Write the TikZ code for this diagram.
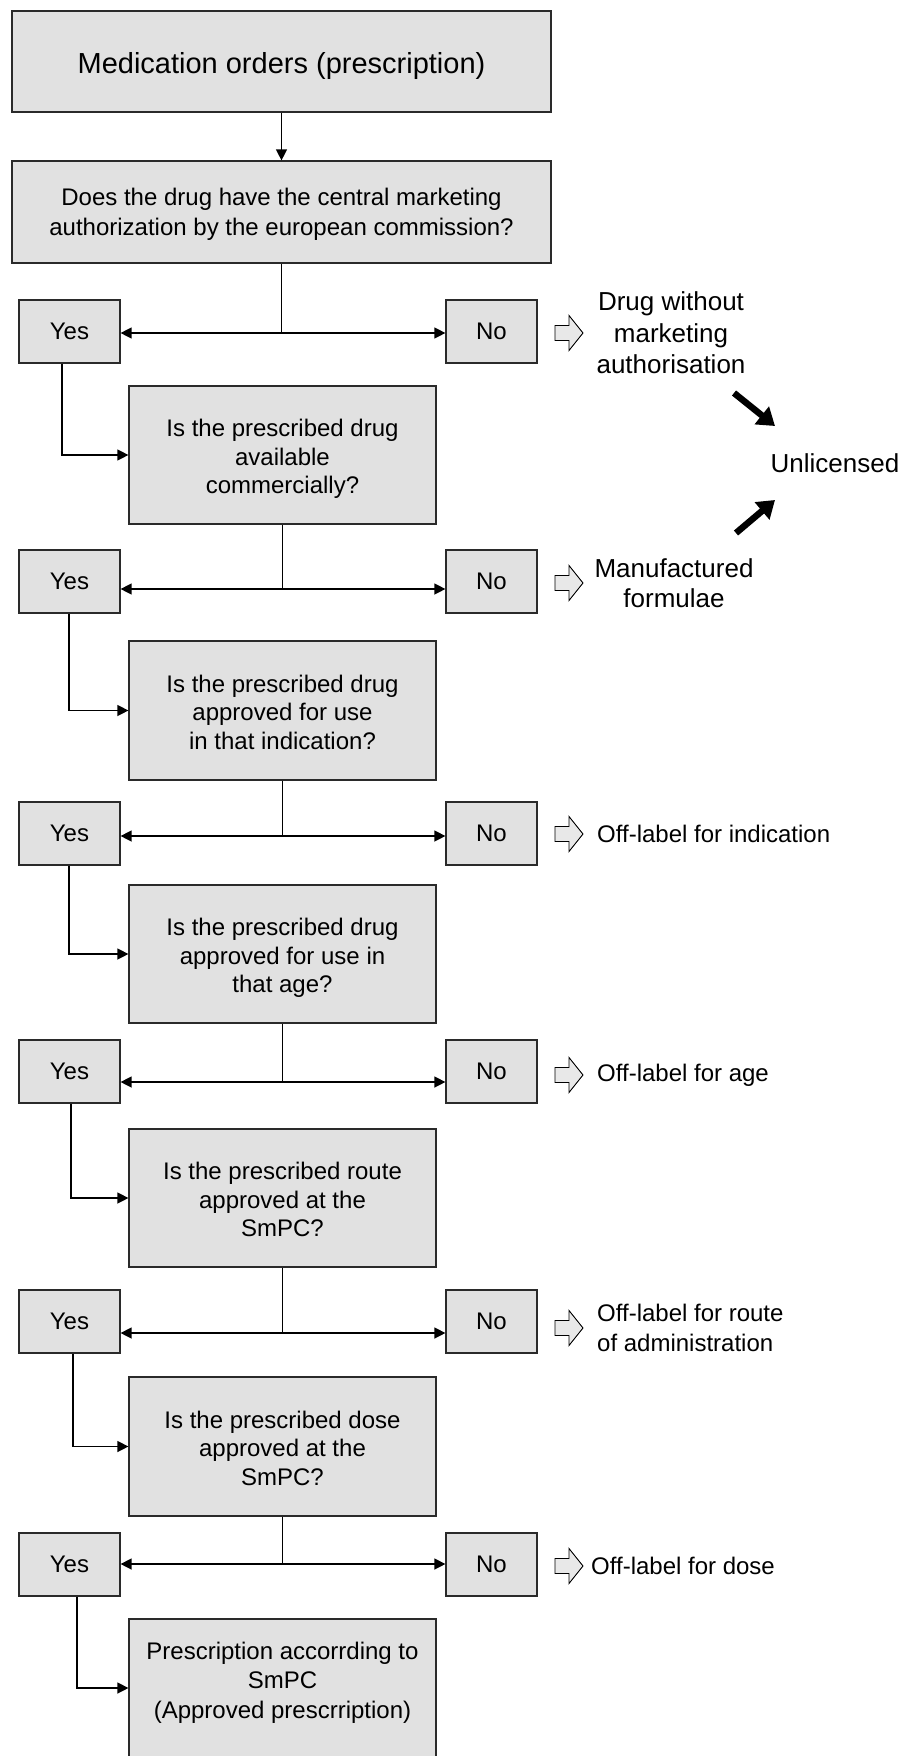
\documentclass[tikz,border=0pt]{standalone}
\usepackage{fontspec}
\setmainfont{Liberation Sans}
\usetikzlibrary{arrows.meta}
\definecolor{boxgray}{HTML}{E1E1E1}
\definecolor{arrgray}{HTML}{E8E8E8}
\definecolor{edge}{HTML}{2A2A2A}
% shift a block of centred lines vertically, keeping its reported size
\newcommand\myshift[2]{\raisebox{#1}[\height][\depth]{\begin{tabular}{@{}c@{}}#2\end{tabular}}}
\begin{document}
\begin{tikzpicture}[x=1pt,y=-1pt,
  box/.style={draw=edge, fill=boxgray, line width=1.2pt, inner sep=0pt, align=center,
    font=\fontsize{24}{28.5}\selectfont},
  bigbox/.style={box, minimum width=539pt, minimum height=101pt},
  qbox/.style={box, minimum width=307pt, minimum height=138pt},
  yesbox/.style={box, minimum width=101pt, minimum height=63pt},
  nobox/.style={box, minimum width=91pt, minimum height=63pt},
  link/.style={draw=black, line width=1.3pt},
  conn/.style={link, -{Triangle[length=11pt,width=11pt]}},
  bigarrow/.style={draw=black, line width=6.5pt, -{Triangle[length=17pt,width=22pt]}},
  lblbig/.style={inner sep=0pt, align=center, font=\fontsize{26}{31.5}\selectfont},
  lbl/.style={inner sep=0pt, anchor=west, align=left, font=\fontsize{24}{30}\selectfont},
  harrow/.pic={\draw[fill=arrgray, draw=black, line width=0.9pt]
      (-28,-7.5) -- (-14,-7.5) -- (-14,-17.5) -- (0,0) -- (-14,17.5) -- (-14,7.5) -- (-28,7.5) -- cycle;}
]
\useasboundingbox (0,0) rectangle (904,1756);

% main column
\node[bigbox, font=\fontsize{29}{34}\selectfont] (top) at (281.5,61.5)
  {\myshift{-5.5pt}{Medication orders (prescription)}};
\node[bigbox, minimum height=102pt, font=\fontsize{24}{30}\selectfont] (q1) at (281.5,212)
  {\myshift{-2.5pt}{Does the drug have the central marketing\\authorization by the european commission?}};
\node[qbox] (q2) at (282.5,455) {\myshift{-4.5pt}{Is the prescribed drug\\available\\commercially?}};
\node[qbox, minimum height=139pt] (q3) at (282.5,710.5) {\myshift{-4.5pt}{Is the prescribed drug\\approved for use\\in that indication?}};
\node[qbox] (q4) at (282.5,954) {\myshift{-4.5pt}{Is the prescribed drug\\approved for use in\\that age?}};
\node[qbox] (q5) at (282.5,1198) {\myshift{-4.5pt}{Is the prescribed route\\approved at the\\SmPC?}};
\node[qbox, minimum height=139pt] (q6) at (282.5,1446.5) {\myshift{-4.5pt}{Is the prescribed dose\\approved at the\\SmPC?}};
\node[qbox, minimum height=146pt, font=\fontsize{24}{29.5}\selectfont] (final) at (282.5,1692)
  {\myshift{9pt}{Prescription accorrding to\\SmPC\\(Approved prescrription)}};

% yes / no boxes
\node[yesbox] (yes1) at (69.5,331.5) {Yes};   \node[nobox] (no1) at (491.5,331.5) {No};
\node[yesbox] (yes2) at (69.5,581.5) {Yes};   \node[nobox] (no2) at (491.5,581.5) {No};
\node[yesbox] (yes3) at (69.5,833.5) {Yes};   \node[nobox] (no3) at (491.5,833.5) {No};
\node[yesbox] (yes4) at (69.5,1071.5) {Yes};  \node[nobox] (no4) at (491.5,1071.5) {No};
\node[yesbox] (yes5) at (69.5,1321.5) {Yes};  \node[nobox] (no5) at (491.5,1321.5) {No};
\node[yesbox] (yes6) at (69.5,1564.5) {Yes};  \node[nobox] (no6) at (491.5,1564.5) {No};

% junctions
\coordinate (j1) at (281.5,333);
\coordinate (j2) at (282.5,589);
\coordinate (j3) at (282.5,836);
\coordinate (j4) at (282.5,1082);
\coordinate (j5) at (282.5,1333);
\coordinate (j6) at (282.5,1564);

\draw[conn] (top) -- (q1);

\draw[link] (q1.south) -- (j1);
\draw[conn] (j1) -- (j1 -| yes1.east);
\draw[conn] (j1) -- (j1 -| no1.west);
\draw[conn] ([xshift=-7.5pt]yes1.south) |- (q2.west);

\draw[link] (q2.south) -- (j2);
\draw[conn] (j2) -- (j2 -| yes2.east);
\draw[conn] (j2) -- (j2 -| no2.west);
\draw[conn] ([xshift=-0.5pt]yes2.south) |- (q3.west);

\draw[link] (q3.south) -- (j3);
\draw[conn] (j3) -- (j3 -| yes3.east);
\draw[conn] (j3) -- (j3 -| no3.west);
\draw[conn] ([xshift=-0.5pt]yes3.south) |- (q4.west);

\draw[link] (q4.south) -- (j4);
\draw[conn] (j4) -- (j4 -| yes4.east);
\draw[conn] (j4) -- (j4 -| no4.west);
\draw[conn] ([xshift=1.5pt]yes4.south) |- (q5.west);

\draw[link] (q5.south) -- (j5);
\draw[conn] (j5) -- (j5 -| yes5.east);
\draw[conn] (j5) -- (j5 -| no5.west);
\draw[conn] ([xshift=3.5pt]yes5.south) |- (q6.west);

\draw[link] (q6.south) -- (j6);
\draw[conn] (j6) -- (j6 -| yes6.east);
\draw[conn] (j6) -- (j6 -| no6.west);
\draw[conn] ([xshift=7.5pt]yes6.south) |- ([yshift=4pt]final.west);

% hollow arrows
\pic at (583,333) {harrow};
\pic at (583,583) {harrow};
\pic at (583,834) {harrow};
\pic at (583,1075) {harrow};
\pic at (583,1328) {harrow};
\pic at (583,1566) {harrow};

% outcome labels
\node[lblbig] (drugwo) at (671,333) {Drug without\\marketing\\authorisation};
\node[lblbig, font=\fontsize{26}{30}\selectfont] (manuf) at (674,583) {Manufactured\\formulae};
\node[lblbig] (unlic) at (835,463) {Unlicensed};
\node[lbl] (off3) at (597,834) {Off-label for indication};
\node[lbl] (off4) at (597,1075) {Off-label for age};
\node[lbl] (off5) at (597,1328) {Off-label for route\\of administration};
\node[lbl] (off6) at (591,1566) {Off-label for dose};

% arrows to Unlicensed
\coordinate (b1s) at (734,393); \coordinate (b1e) at (775,426);
\coordinate (b2s) at (736,533); \coordinate (b2e) at (775,500);
\draw[bigarrow] (b1s) -- (b1e);
\draw[bigarrow] (b2s) -- (b2e);
\end{tikzpicture}
\end{document}
